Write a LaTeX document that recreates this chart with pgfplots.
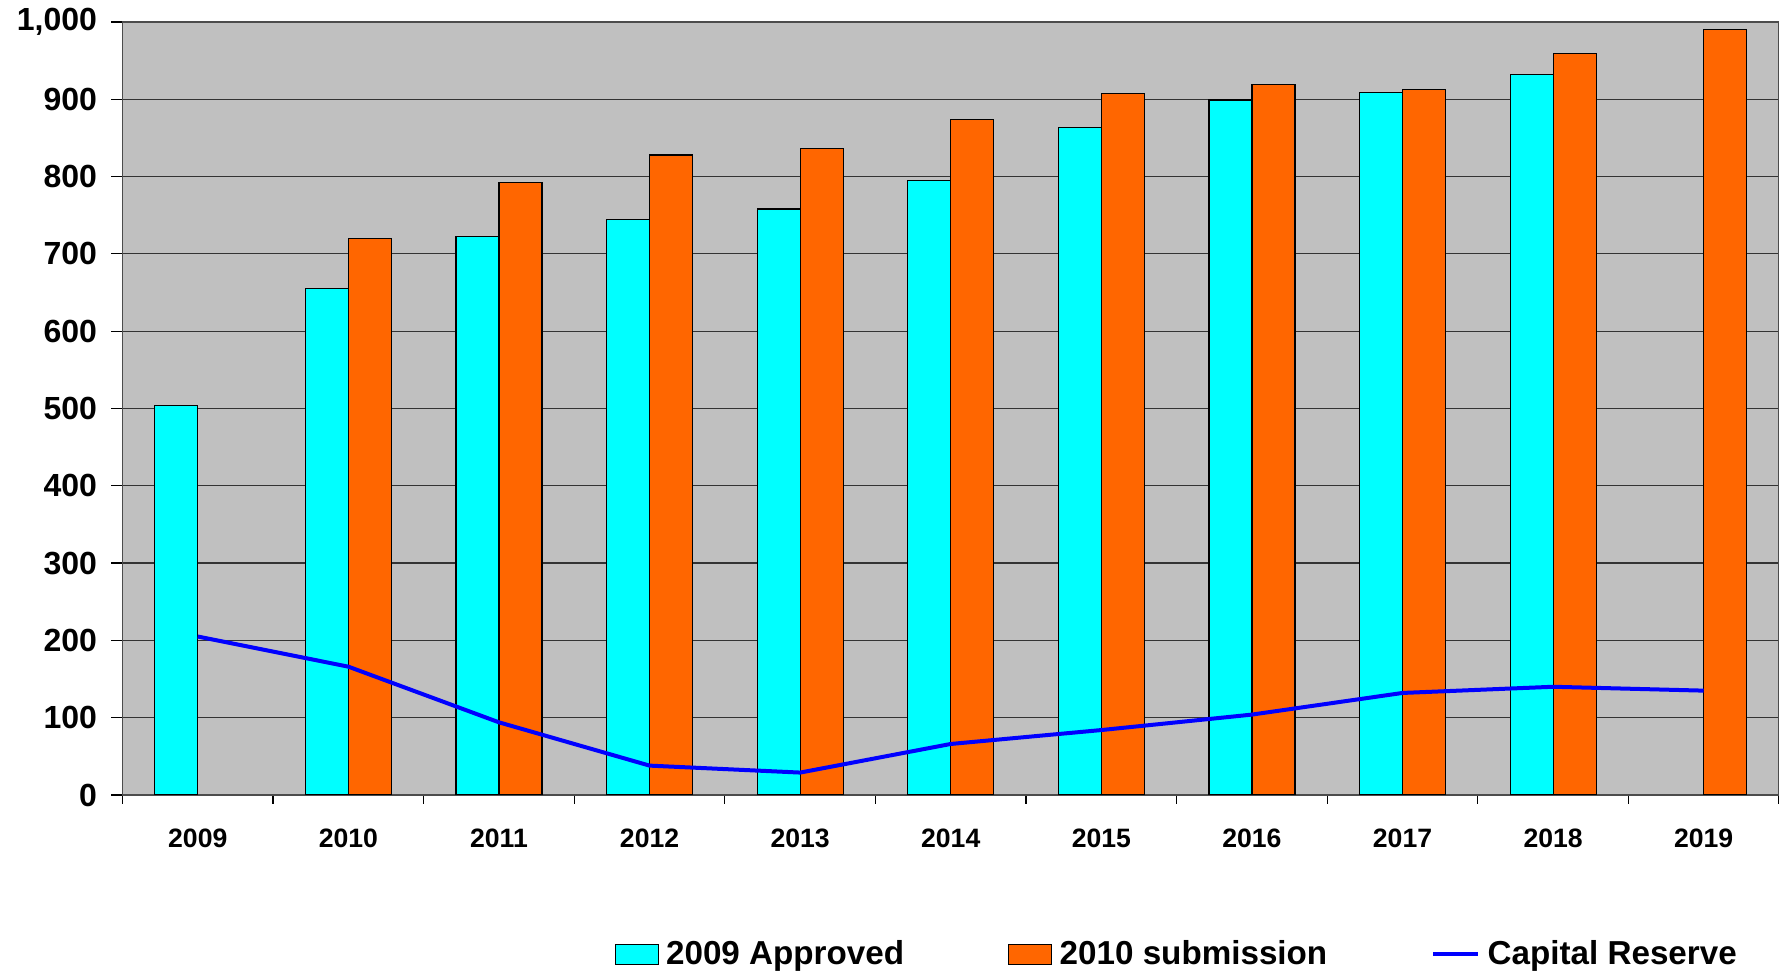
\documentclass[border=0pt]{standalone}
\usepackage{pgfplots}
\pgfplotsset{compat=1.18}
\usepackage{fontspec}
\setmainfont{Liberation Sans}
\definecolor{bgc}{HTML}{C0C0C0}
\definecolor{cyanbar}{HTML}{00FFFF}
\definecolor{orangebar}{HTML}{FF6600}
\definecolor{linec}{HTML}{0000FF}
\begin{document}
\begin{tikzpicture}
\useasboundingbox (-61.25pt,-88.5pt) rectangle (828.25pt,397.5pt);
\begin{axis}[
 at={(0,0)}, anchor=south west,
 scale only axis, width=828.25pt, height=386.5pt,
 xmin=-0.5, xmax=10.5, ymin=0, ymax=1000,
 axis background/.style={fill=bgc},
 axis line style={black!70, line width=0.6pt},
 ytick={0,100,...,1000},
 ymajorgrids, grid style={black!80, line width=0.6pt},
 xtick={0,1,2,3,4,5,6,7,8,9,10},
 xticklabels={2009,2010,2011,2012,2013,2014,2015,2016,2017,2018,2019},
 minor xtick={-0.5,0.5,...,10.5},
 tick align=outside, tick pos=left,
 major tick length=5.5pt, minor tick length=4.5pt,
 major x tick style={draw=none},
 tick style={black, line width=0.6pt},
 yticklabel style={font=\bfseries\fontsize{16}{19}\selectfont, xshift=-3.7pt},
 xticklabel style={font=\bfseries\fontsize{13.3}{16}\selectfont, yshift=-7.8pt},
 /pgf/number format/1000 sep={,},
 /pgf/number format/assume math mode=true,
 legend columns=3,
 legend style={at={(0.637,-0.206)}, anchor=center, draw=none, fill=none,
   font=\bfseries\fontsize{16.6}{20}\selectfont,
   /tikz/every even column/.append style={column sep=50pt}},
]
\addplot[ybar, bar width=21.5pt, bar shift=-10.75pt, fill=cyanbar, draw=black, line width=0.6pt,
  legend image code/.code={\draw[fill=cyanbar,draw=black,line width=0.6pt] (0pt,-5pt) rectangle (21.5pt,5pt); \path (23.2pt,0pt);}]
 coordinates {(0,504) (1,655) (2,723) (3,745) (4,758) (5,795) (6,864) (7,899) (8,909) (9,932)};
\addlegendentry{2009 Approved}
\addplot[ybar, bar width=21.5pt, bar shift=10.75pt, fill=orangebar, draw=black, line width=0.6pt,
  legend image code/.code={\draw[fill=orangebar,draw=black,line width=0.6pt] (0pt,-5pt) rectangle (21.5pt,5pt); \path (23.2pt,0pt);}]
 coordinates {(1,720) (2,792) (3,828) (4,836) (5,874) (6,908) (7,919) (8,913) (9,959) (10,990)};
\addlegendentry{2010 submission}
\addplot[sharp plot, mark=none, color=linec, line width=2pt,
  legend image code/.code={\draw[color=linec,line width=2pt] (0pt,0pt) -- (22.5pt,0pt); \path (24.2pt,0pt);}]
 coordinates {(0,205) (1,166) (2,94) (3,38) (4,29) (5,66) (6,84) (7,104) (8,132) (9,140) (10,135)};
\addlegendentry{Capital Reserve}
\end{axis}
\end{tikzpicture}
\end{document}
